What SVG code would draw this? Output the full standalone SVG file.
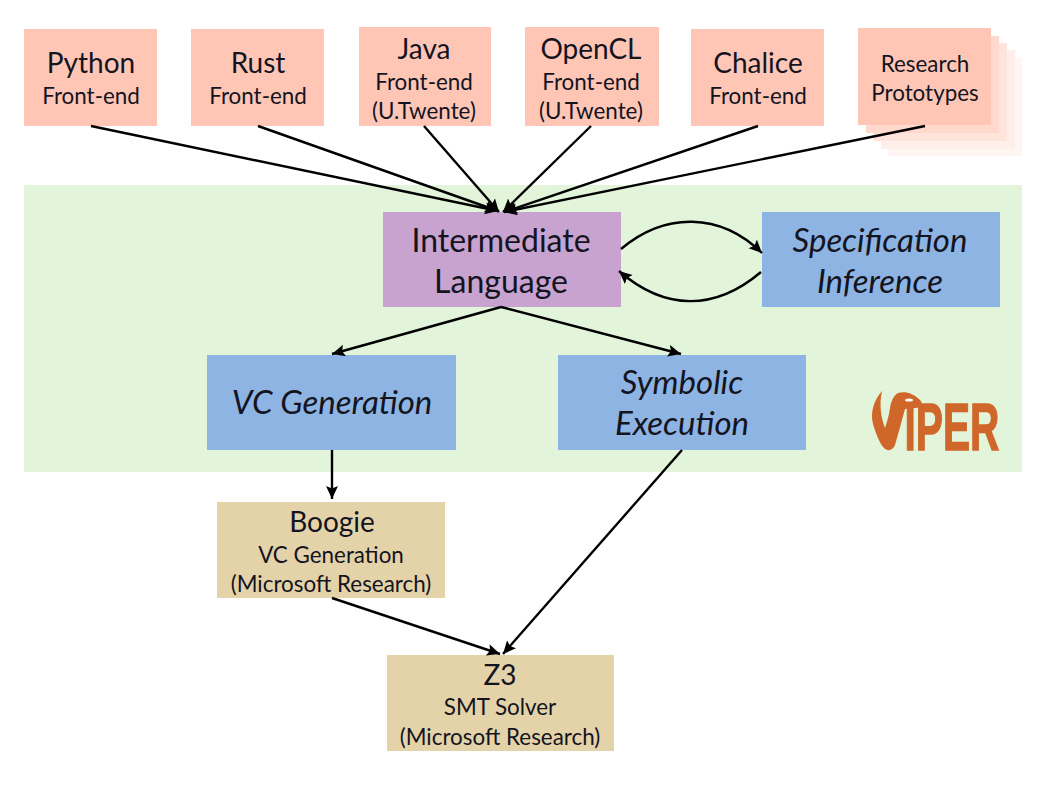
<svg xmlns="http://www.w3.org/2000/svg" width="1062" height="791" viewBox="0 0 1062 791">
<style>
text{font-family:Lato,"Liberation Sans",sans-serif;fill:#14141f;text-anchor:middle}
.t{font-size:28px}.s{font-size:22.4px}.b{font-size:32px}.i{font-style:italic;font-size:33px}
.fe{fill:#ffc6b6}.bl{fill:#8eb4e3}.tan{fill:#e4d3a9}
.c{fill:none;stroke:#000;stroke-width:2.4;marker-end:url(#a)}
</style>
<defs><marker id="a" markerUnits="userSpaceOnUse" markerWidth="15" markerHeight="13" refX="13" refY="6" orient="auto"><path d="M0 0L13 6L0 12L2.5 6Z" fill="#000"/></marker></defs>
<rect width="1062" height="791" fill="#fff"/>
<rect id="viper-area" x="24" y="185" width="998" height="287" fill="#e2f4d9"/>
<g id="python"><rect class="fe" x="24" y="29" width="133" height="97"/><text class="t" x="91" y="73">Python</text><text class="s" x="91" y="104">Front-end</text></g>
<g id="rust"><rect class="fe" x="191" y="29" width="133" height="97"/><text class="t" x="258" y="73">Rust</text><text class="s" x="258" y="104">Front-end</text></g>
<g id="java"><rect class="fe" x="359" y="27" width="132" height="99"/><text class="t" x="424" y="59">Java</text><text class="s" x="424" y="90">Front-end</text><text class="s" x="424" y="119">(U.Twente)</text></g>
<g id="opencl"><rect class="fe" x="525" y="27" width="134" height="99"/><text class="t" x="591" y="59">OpenCL</text><text class="s" x="591" y="90">Front-end</text><text class="s" x="591" y="119">(U.Twente)</text></g>
<g id="chalice"><rect class="fe" x="691" y="29" width="133" height="97"/><text class="t" x="758" y="73">Chalice</text><text class="s" x="758" y="104">Front-end</text></g>
<g id="research"><rect x="888" y="58" width="134" height="98" fill="#fff6f3"/><rect x="881" y="50" width="134" height="99" fill="#ffeee9"/><rect x="873" y="43" width="134" height="98" fill="#ffe4dc"/><rect x="866" y="36" width="133" height="97" fill="#ffd9ce"/><rect class="fe" x="858" y="28" width="133" height="97"/><text class="s" x="925" y="72">Research</text><text class="s" x="925" y="101">Prototypes</text></g>
<g id="intermediate"><rect x="383" y="212" width="238" height="95" fill="#c8a3d0"/><text class="b" x="501" y="252">Intermediate</text><text class="b" x="501" y="293">Language</text></g>
<g id="spec"><rect class="bl" x="762" y="212" width="238" height="95"/><text class="b i" x="880" y="252">Specification</text><text class="b i" x="880" y="293">Inference</text></g>
<g id="vcgen"><rect class="bl" x="207" y="355" width="249" height="95"/><text class="b i" x="332" y="414">VC Generation</text></g>
<g id="symbolic"><rect class="bl" x="558" y="355" width="248" height="95"/><text class="b i" x="682" y="394">Symbolic</text><text class="b i" x="682" y="435">Execution</text></g>
<g id="boogie"><rect class="tan" x="217" y="502" width="228" height="96"/><text class="t" x="332" y="532">Boogie</text><text class="s" x="331" y="563">VC Generation</text><text class="s" x="331" y="592">(Microsoft Research)</text></g>
<g id="z3"><rect class="tan" x="387" y="655" width="227" height="96"/><text class="t" x="500" y="685">Z3</text><text class="s" x="500" y="715">SMT Solver</text><text class="s" x="500" y="745">(Microsoft Research)</text></g>
<g id="logo"><text x="904.5" y="449.5" font-size="66" font-weight="700" textLength="95" lengthAdjust="spacingAndGlyphs" style="font-family:'Liberation Sans',sans-serif;fill:#d0672a;stroke:#d0672a;stroke-width:1.4;text-anchor:start">IPER</text><path d="M882 391C874 400 870 412 873 424C876 434 880 444 884 448C888 452 893 450 895 445C898 435 902 420 905 409L916 408C923 407 923 403 920 400C913 393 905 391 898 393C893 396 891 402 890 408C889 415 887 422 885 428C881 418 879 404 882 391Z" fill="#d0672a"/><ellipse cx="909" cy="400" rx="4" ry="1.6" fill="#fff"/></g>
<g id="connectors">
<path class="c" d="M91 126L498 211"/><path class="c" d="M258 126L498 211"/><path class="c" d="M424 126L499 212"/><path class="c" d="M591 126L503 212"/><path class="c" d="M758 126L504 212"/><path class="c" d="M925 126L504 212"/>
<path class="c" d="M621 249C665 212 720 212 762 253"/><path class="c" d="M761 272C715 311 665 311 619 271"/>
<path class="c" d="M501 307L332 354"/><path class="c" d="M501 307L681 354"/>
<path class="c" d="M332 450V499"/><path class="c" d="M682 450L503 654"/><path class="c" d="M332 598L500 654"/>
</g>
</svg>
